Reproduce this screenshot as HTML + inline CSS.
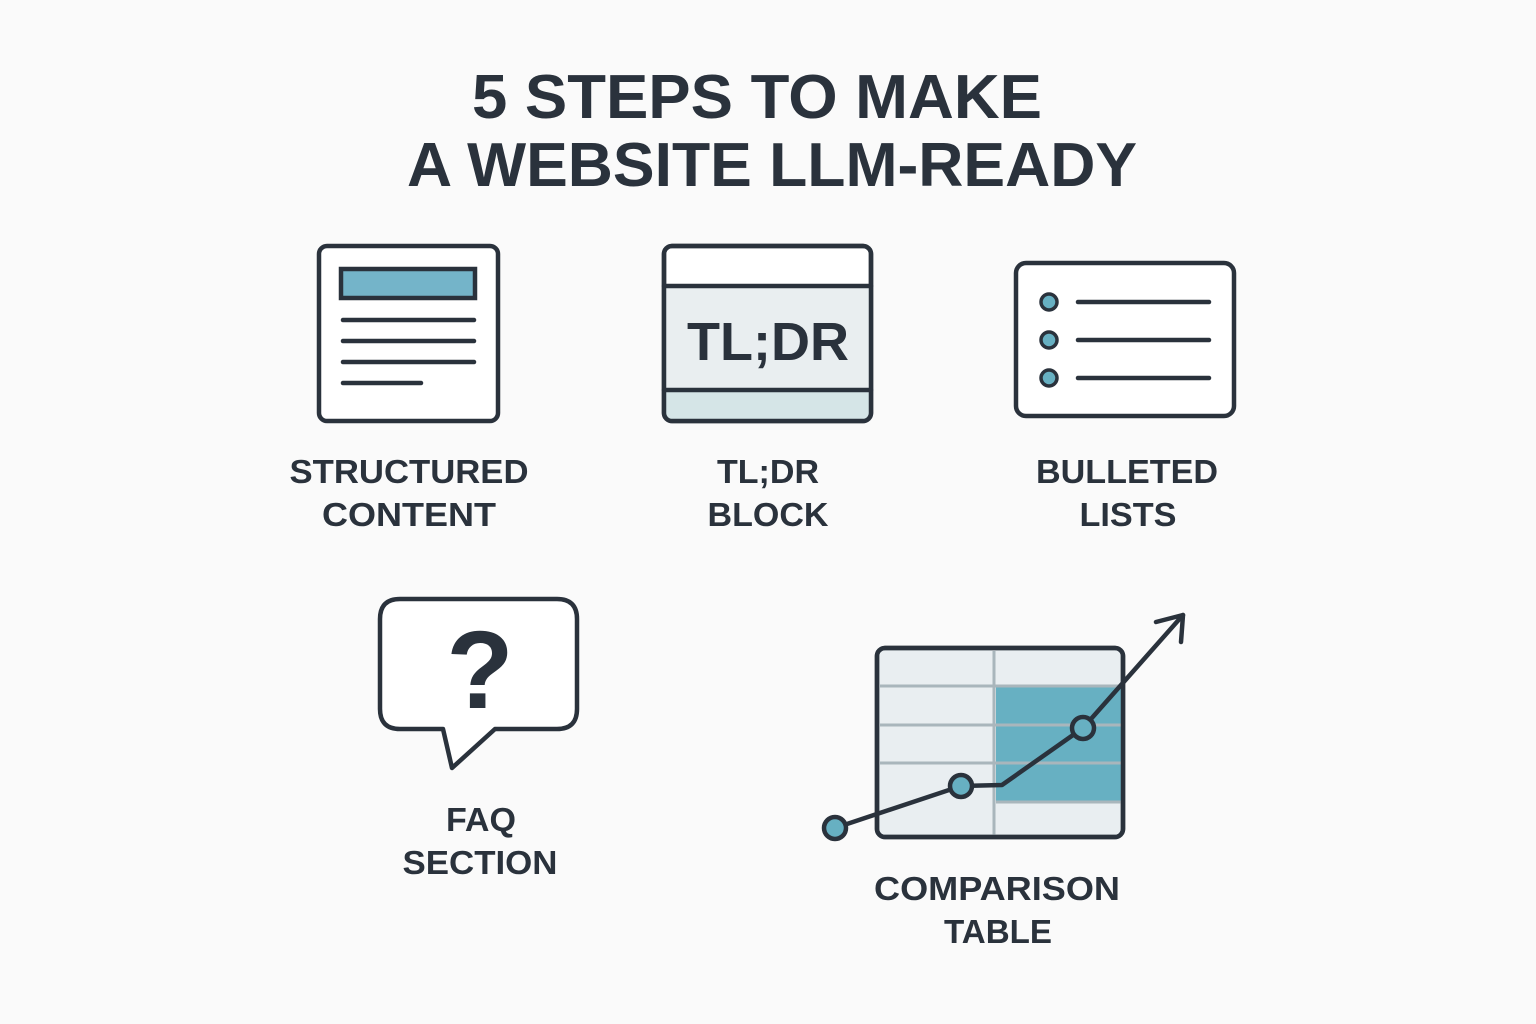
<!DOCTYPE html>
<html><head><meta charset="utf-8"><style>
html,body{margin:0;padding:0;background:#fafafa}
svg{display:block}
text{font-family:"Liberation Sans",sans-serif;font-weight:bold;fill:#2a323c;text-anchor:middle}
</style></head><body>
<svg width="1536" height="1024" viewBox="0 0 1536 1024">
<rect width="1536" height="1024" fill="#fafafa"/>
<text x="757" y="118" font-size="62" textLength="570" lengthAdjust="spacingAndGlyphs">5 STEPS TO MAKE</text>
<text x="772" y="186" font-size="62" textLength="730" lengthAdjust="spacingAndGlyphs">A WEBSITE LLM-READY</text>

<g stroke="#2a323c" stroke-width="4.5" stroke-linecap="round" fill="none">
<rect x="319" y="246" width="179" height="175" rx="8" fill="#fff"/>
<rect x="341" y="269" width="134" height="29" fill="#74b4c9"/>
<line x1="343" y1="320" x2="474" y2="320"/>
<line x1="343" y1="341" x2="474" y2="341"/>
<line x1="343" y1="362" x2="474" y2="362"/>
<line x1="343" y1="383" x2="421" y2="383"/>
<rect x="664" y="246" width="207" height="175" rx="8" fill="#fff"/>
<rect x="666" y="287" width="203" height="103" fill="#e9eef0" stroke="none"/>
<rect x="666" y="391" width="203" height="28" fill="#d5e5e7" stroke="none"/>
<line x1="664" y1="286" x2="871" y2="286"/>
<line x1="664" y1="390" x2="871" y2="390"/>
<rect x="664" y="246" width="207" height="175" rx="8"/>
<rect x="1016" y="263" width="218" height="153" rx="10" fill="#fff"/>
<circle cx="1049" cy="302" r="8" fill="#67b0c2" stroke-width="3.5"/>
<circle cx="1049" cy="340" r="8" fill="#67b0c2" stroke-width="3.5"/>
<circle cx="1049" cy="378" r="8" fill="#67b0c2" stroke-width="3.5"/>
<line x1="1078" y1="302" x2="1209" y2="302"/>
<line x1="1078" y1="340" x2="1209" y2="340"/>
<line x1="1078" y1="378" x2="1209" y2="378"/>
<path d="M400 599 H557 Q577 599 577 619 V709 Q577 729 557 729 H495 L452 768 L443 729 H400 Q380 729 380 709 V619 Q380 599 400 599 Z" fill="#fff" stroke-linejoin="round"/>
<rect x="877" y="648" width="246" height="189" rx="8" fill="#e9eef1"/>
<rect x="996" y="687" width="125" height="114" fill="#67b0c2" stroke="none"/>
<g stroke="#a9b6bc" stroke-width="3" stroke-linecap="butt">
<line x1="880" y1="686" x2="1121" y2="686"/>
<line x1="880" y1="725" x2="1121" y2="725"/>
<line x1="880" y1="763" x2="1121" y2="763"/>
<line x1="996" y1="802" x2="1121" y2="802"/>
<line x1="994" y1="651" x2="994" y2="835"/>
</g>
<rect x="877" y="648" width="246" height="189" rx="8"/>
<polyline points="835,828 961,786 1002,785 1083,728 1183,615" stroke-linejoin="round"/>
<polyline points="1156,622 1183,615 1181,642" stroke-linejoin="round"/>
<circle cx="835" cy="828" r="11" fill="#67b0c2"/>
<circle cx="961" cy="786" r="11" fill="#67b0c2"/>
<circle cx="1083" cy="728" r="11" fill="#67b0c2"/>
</g>
<text x="768" y="360" font-size="54">TL;DR</text>
<text x="480" y="708" font-size="110">?</text>

<g font-size="33" lengthAdjust="spacingAndGlyphs">
<text x="409" y="483" textLength="239" lengthAdjust="spacingAndGlyphs">STRUCTURED</text>
<text x="409" y="526" textLength="174" lengthAdjust="spacingAndGlyphs">CONTENT</text>
<text x="768" y="483" textLength="102" lengthAdjust="spacingAndGlyphs">TL;DR</text>
<text x="768" y="526" textLength="121" lengthAdjust="spacingAndGlyphs">BLOCK</text>
<text x="1127" y="483" textLength="182" lengthAdjust="spacingAndGlyphs">BULLETED</text>
<text x="1128" y="526" textLength="97" lengthAdjust="spacingAndGlyphs">LISTS</text>
<text x="481" y="831" textLength="70" lengthAdjust="spacingAndGlyphs">FAQ</text>
<text x="480" y="874" textLength="155" lengthAdjust="spacingAndGlyphs">SECTION</text>
<text x="997" y="900" textLength="246" lengthAdjust="spacingAndGlyphs">COMPARISON</text>
<text x="998" y="943" textLength="108" lengthAdjust="spacingAndGlyphs">TABLE</text>
</g>
</svg>
</body></html>
